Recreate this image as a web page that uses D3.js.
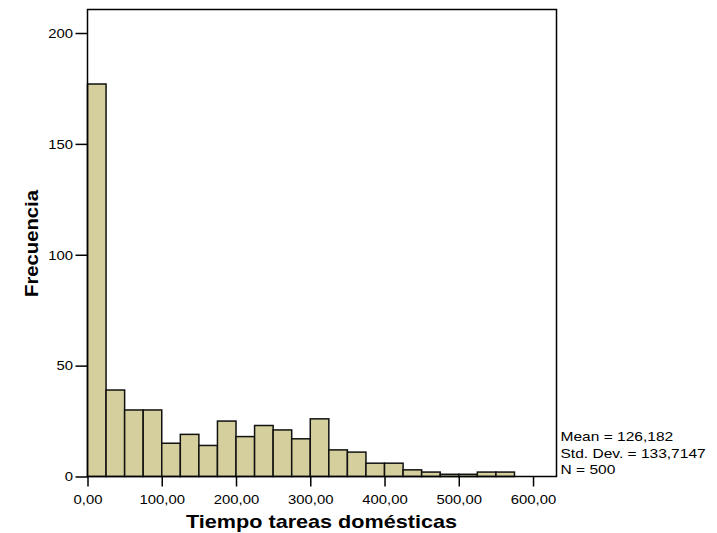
<!DOCTYPE html>
<html>
<head>
<meta charset="utf-8">
<script src="https://cdn.jsdelivr.net/npm/d3@7"></script>
<style>
  html, body { margin: 0; padding: 0; background: #fff; }
  svg { display: block; font-family: "Liberation Sans", Arial, sans-serif; }
</style>
</head>
<body>
<svg id="chart" width="717" height="533"></svg>
<script>
// Histogram of household-chores time (bin width 25)
const binStarts = [0, 25, 50, 75, 100, 125, 150, 175, 200, 225, 250, 275, 300, 325, 350, 375, 400, 425, 450, 475, 500, 525, 550];
const counts    = [177, 39, 30, 30, 15, 19, 14, 25, 18, 23, 21, 17, 26, 12, 11, 6, 6, 3, 2, 1, 1, 2, 2];
const binWidth = 25;

const xTickValues = [0, 100, 200, 300, 400, 500, 600];
const xTickLabels = ["0,00", "100,00", "200,00", "300,00", "400,00", "500,00", "600,00"];
const yTickValues = [0, 50, 100, 150, 200];

const xTitle = "Tiempo tareas domésticas";
const yTitle = "Frecuencia";
const statsLines = ["Mean = 126,182", "Std. Dev. = 133,7147", "N = 500"];

const box = { left: 87.5, right: 556.5, top: 9.5, bottom: 476.5 };

const svg = d3.select("#chart");

// widen glyphs horizontally (the output uses a slightly stretched sans)
function stretch(sel, factor) {
  sel.each(function () {
    const len = this.getComputedTextLength();
    d3.select(this)
      .attr("textLength", len * factor)
      .attr("lengthAdjust", "spacingAndGlyphs");
  });
}

const x = d3.scaleLinear().domain([0, 631.6]).range([box.left, box.right]);
const y = d3.scaleLinear().domain([0, 210.6]).range([box.bottom, box.top]);

// bars
svg.append("g")
  .selectAll("rect")
  .data(binStarts.map((s, i) => ({ start: s, count: counts[i] })))
  .join("rect")
  .attr("x", d => x(d.start))
  .attr("width", d => x(d.start + binWidth) - x(d.start))
  .attr("y", d => y(d.count))
  .attr("height", d => y(0) - y(d.count))
  .attr("fill", "#d4cf9c")
  .attr("stroke", "#111")
  .attr("stroke-width", 1.5);

// frame
svg.append("rect")
  .attr("x", box.left).attr("y", box.top)
  .attr("width", box.right - box.left)
  .attr("height", box.bottom - box.top)
  .attr("fill", "none")
  .attr("stroke", "#000")
  .attr("stroke-width", 1.5);

// x axis
const xAxis = d3.axisBottom(x)
  .tickValues(xTickValues)
  .tickFormat((d, i) => xTickLabels[i])
  .tickSizeInner(10)
  .tickSizeOuter(0)
  .tickPadding(7.5);
const gx = svg.append("g")
  .attr("transform", `translate(0,${box.bottom})`)
  .call(xAxis);
gx.select(".domain").remove();
gx.selectAll("line").attr("stroke", "#000").attr("stroke-width", 1.5);
gx.selectAll("text").attr("font-size", 13.5).attr("fill", "#000")
  .attr("font-family", "Liberation Sans, Arial, sans-serif")
  .call(stretch, 1.1);

// y axis
const yAxis = d3.axisLeft(y)
  .tickValues(yTickValues)
  .tickSizeInner(12)
  .tickSizeOuter(0)
  .tickPadding(2.5);
const gy = svg.append("g")
  .attr("transform", `translate(${box.left},0)`)
  .call(yAxis);
gy.select(".domain").remove();
gy.selectAll("line").attr("stroke", "#000").attr("stroke-width", 1.5);
gy.selectAll("text").attr("font-size", 13.5).attr("fill", "#000")
  .attr("font-family", "Liberation Sans, Arial, sans-serif")
  .call(stretch, 1.1);

// axis titles
svg.append("text")
  .attr("x", 321.5)
  .attr("y", 528.3)
  .attr("text-anchor", "middle")
  .attr("font-size", 18.5)
  .attr("font-weight", "bold")
  .attr("textLength", 271)
  .attr("lengthAdjust", "spacingAndGlyphs")
  .text(xTitle);

svg.append("text")
  .attr("transform", `translate(38.3,243.5) rotate(-90)`)
  .attr("text-anchor", "middle")
  .attr("font-size", 18.5)
  .attr("font-weight", "bold")
  .attr("textLength", 107)
  .attr("lengthAdjust", "spacingAndGlyphs")
  .text(yTitle);

// summary statistics
svg.append("g")
  .selectAll("text")
  .data(statsLines)
  .join("text")
  .attr("x", 560.5)
  .attr("y", (d, i) => 441 + i * 16.6)
  .attr("font-size", 13.5)
  .text(d => d)
  .call(stretch, 1.15);
</script>
</body>
</html>
